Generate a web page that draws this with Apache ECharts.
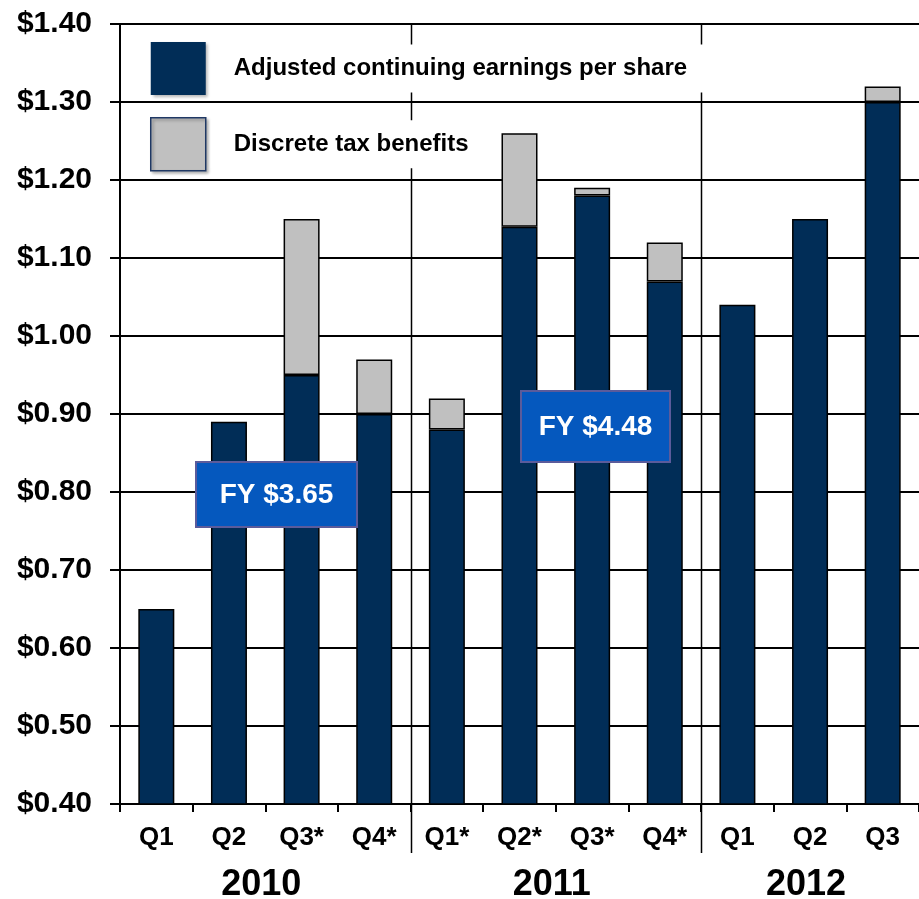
<!DOCTYPE html>
<html lang="en">
<head>
<meta charset="UTF-8">
<title>Earnings per share</title>
<script src="https://cdn.jsdelivr.net/npm/echarts@6/dist/echarts.min.js"></script>
<style>
  html, body { margin: 0; padding: 0; background: #fff; }
  #main { width: 919px; height: 899px; }
</style>
</head>
<body>
<div id="main"></div>
<script>
// quarters (unique keys) and what is printed under each bar
var categories = ['2010 Q1', '2010 Q2', '2010 Q3*', '2010 Q4*', '2011 Q1*', '2011 Q2*', '2011 Q3*', '2011 Q4*', '2012 Q1', '2012 Q2', '2012 Q3'];
var quarterLabels = ['Q1', 'Q2', 'Q3*', 'Q4*', 'Q1*', 'Q2*', 'Q3*', 'Q4*', 'Q1', 'Q2', 'Q3'];
var years = ['2010', '2011', '2012'];
var yearFirst = [0, 4, 8];
var yearLast = [3, 7, 10];

var adjusted = [0.65, 0.89, 0.95, 0.90, 0.88, 1.14, 1.18, 1.07, 1.04, 1.15, 1.30];
var taxBenefits = [null, null, 0.20, 0.07, 0.04, 0.12, 0.01, 0.05, null, null, 0.02];
var fyLabels = ['FY $3.65', 'FY $4.48'];

var FONT = '"Liberation Sans", Arial, sans-serif';
var chart = echarts.init(document.getElementById('main'));

var option = {
    animation: false,
    backgroundColor: '#fff',
    grid: { left: 120, top: 24, width: 803, height: 780 },
    legend: {
        orient: 'vertical',
        left: 150,
        top: 42,
        padding: 0,
        itemWidth: 55,
        itemHeight: 53,
        itemGap: 22,
        icon: 'rect',
        selectedMode: false,
        textStyle: {
            fontFamily: FONT, fontWeight: 'bold', fontSize: 24, color: '#000',
            backgroundColor: '#fff', padding: [12, 19, 12, 23]
        },
        data: [
            { name: 'Adjusted continuing earnings per share',
              itemStyle: { borderWidth: 0, shadowBlur: 3, shadowOffsetX: 2, shadowOffsetY: 2, shadowColor: 'rgba(0,0,0,0.3)' } },
            { name: 'Discrete tax benefits',
              itemStyle: { borderColor: '#1f3864', borderWidth: 1.5, shadowBlur: 3, shadowOffsetX: 2, shadowOffsetY: 2, shadowColor: 'rgba(0,0,0,0.3)' } }
        ]
    },
    xAxis: {
        type: 'category',
        data: categories,
        axisLine: { lineStyle: { color: '#000', width: 2 } },
        axisTick: { show: true, length: 8, lineStyle: { color: '#000', width: 2 } },
        axisLabel: {
            margin: 21, fontFamily: FONT, fontWeight: 'bold', fontSize: 26, color: '#000',
            formatter: function (v, i) { return quarterLabels[i]; }
        },
        splitLine: { show: false }
    },
    yAxis: {
        type: 'value',
        min: 0.4,
        max: 1.4,
        interval: 0.1,
        axisLine: { show: true, lineStyle: { color: '#000', width: 2 } },
        axisTick: { show: true, length: 10, lineStyle: { color: '#000', width: 2 } },
        axisLabel: {
            margin: 28, fontFamily: FONT, fontWeight: 'bold', fontSize: 30, color: '#000',
            formatter: function (v) { return '$' + v.toFixed(2); }
        },
        splitLine: { lineStyle: { color: '#000', width: 2 } }
    },
    series: [
        {
            name: 'Adjusted continuing earnings per share',
            type: 'bar',
            stack: 'eps',
            barWidth: 36,
            data: adjusted,
            itemStyle: { color: '#012d57', borderColor: '#000', borderWidth: 1.5 }
        },
        {
            name: 'Discrete tax benefits',
            type: 'bar',
            stack: 'eps',
            barWidth: 36,
            data: taxBenefits,
            itemStyle: { color: '#c0c0c0', borderColor: '#000', borderWidth: 1.5 }
        }
    ]
};
chart.setOption(option);

// separators between years, year captions and FY boxes
function px(i) { return chart.convertToPixel({ xAxisIndex: 0 }, i); }
var yTop = chart.convertToPixel({ yAxisIndex: 0 }, 1.4);
var yBottom = chart.convertToPixel({ yAxisIndex: 0 }, 0.4);
var graphics = [];
yearFirst.forEach(function (first, k) {
    if (k > 0) {
        var xs = Math.round((px(first - 1) + px(first)) / 2) + 0.5;
        graphics.push({
            type: 'line', z: 3,
            shape: { x1: xs, y1: yTop, x2: xs, y2: yBottom + 49 },
            style: { stroke: '#000', lineWidth: 1.5 }
        });
    }
    var xc = (px(first) + px(yearLast[k])) / 2;
    graphics.push({
        type: 'text', z: 5,
        x: xc - 4, y: yBottom + 81,
        style: {
            text: years[k], fill: '#000', align: 'center', verticalAlign: 'middle',
            font: 'bold 36px ' + FONT
        }
    });
});

var fyBoxes = [
    { x: 196, y: 462, w: 161, h: 65 },
    { x: 521, y: 391, w: 149, h: 71 }
];
fyBoxes.forEach(function (b, k) {
    graphics.push({
        type: 'rect', z: 20,
        shape: { x: b.x, y: b.y, width: b.w, height: b.h },
        style: { fill: '#0558be', stroke: '#5b5b9b', lineWidth: 2 }
    });
    graphics.push({
        type: 'text', z: 21,
        x: b.x + b.w / 2, y: b.y + b.h / 2 + 1,
        style: { text: fyLabels[k], fill: '#fff', align: 'center', verticalAlign: 'middle',
                 font: 'bold 28px ' + FONT }
    });
});
chart.setOption({ graphic: graphics });
</script>
</body>
</html>
